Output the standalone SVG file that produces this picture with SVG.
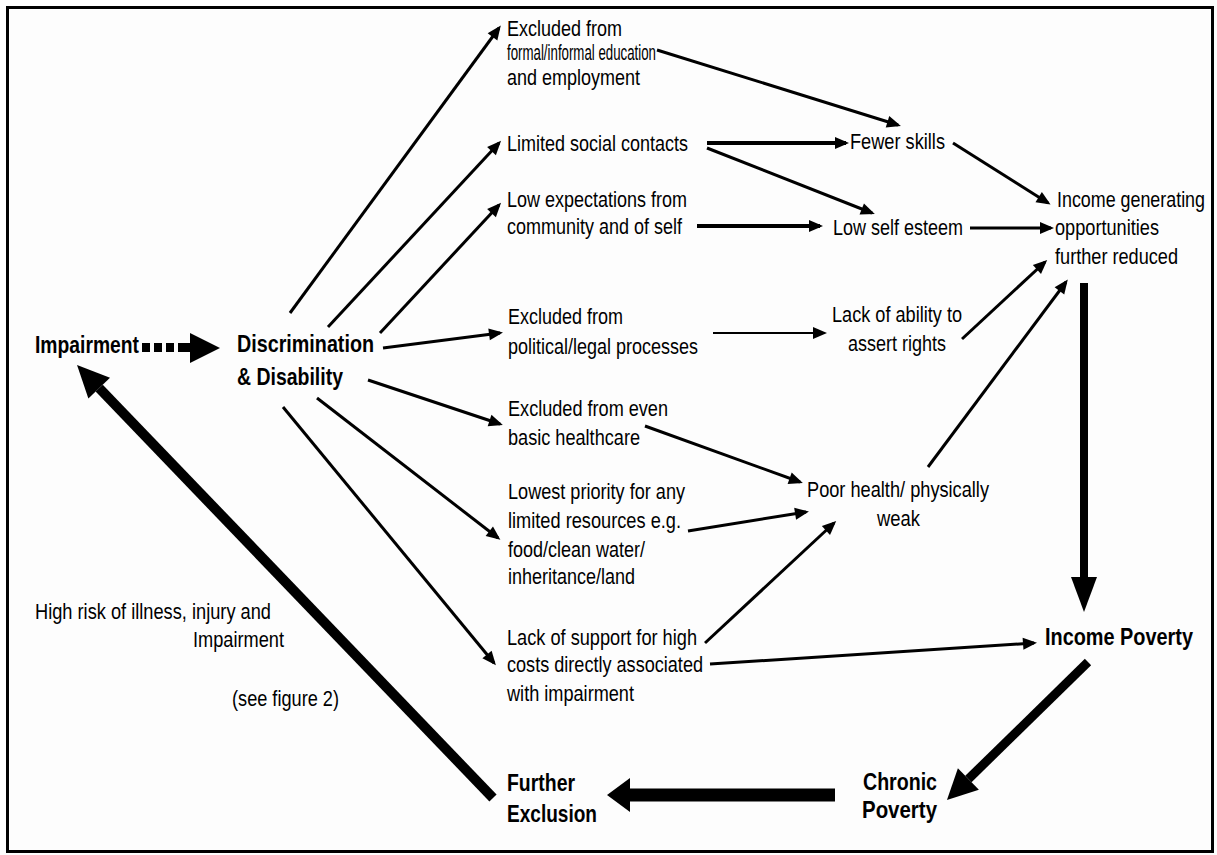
<svg xmlns="http://www.w3.org/2000/svg" width="1217" height="855" viewBox="0 0 1217 855">
  <style>
    text { font-family: "Liberation Sans Narrow", "Liberation Sans", Arial, sans-serif; font-size: 22px; fill: #000; }
    .b { font-weight: bold; font-size: 24px; }
    .c { stroke: #000; stroke-width: 3; fill: none; marker-end: url(#ah); }
    .t { stroke: #000; stroke-width: 2; fill: none; marker-end: url(#ah); }
    .k { stroke: #000; stroke-width: 4; fill: none; marker-end: url(#ah); }
  </style>
  <defs>
    <marker id="ah" markerUnits="userSpaceOnUse" markerWidth="14" markerHeight="12" refX="11" refY="6" orient="auto" overflow="visible">
      <path d="M0,0 L14,6 L0,12 z" fill="#000"/>
    </marker>
    <marker id="bigV" markerUnits="userSpaceOnUse" markerWidth="35" markerHeight="26" refX="0" refY="13" orient="auto" overflow="visible">
      <path d="M0,0 L35,13 L0,26 z" fill="#000"/>
    </marker>
    <marker id="bigD" markerUnits="userSpaceOnUse" markerWidth="30" markerHeight="30" refX="0" refY="15" orient="auto" overflow="visible">
      <path d="M0,0 L30,15 L0,30 z" fill="#000"/>
    </marker>
    <marker id="bigH" markerUnits="userSpaceOnUse" markerWidth="23" markerHeight="34" refX="0" refY="17" orient="auto" overflow="visible">
      <path d="M0,0 L23,17 L0,34 z" fill="#000"/>
    </marker>
    <marker id="bigL" markerUnits="userSpaceOnUse" markerWidth="32" markerHeight="30" refX="0" refY="15" orient="auto" overflow="visible">
      <path d="M0,0 L32,15 L0,30 z" fill="#000"/>
    </marker>
  </defs>

  <rect width="1217" height="855" fill="#fdfdfd"/>
  <!-- frame -->
  <rect x="7.5" y="7.5" width="1205" height="844" fill="none" stroke="#000" stroke-width="3"/>

  <!-- connectors -->
  <g id="connectors">
    <!-- fan out from Discrimination & Disability -->
    <line class="c" x1="290" y1="313" x2="499" y2="28"/>
    <line class="c" x1="328" y1="327" x2="499" y2="143"/>
    <line class="c" x1="380" y1="333" x2="499" y2="205"/>
    <line class="c" x1="383" y1="348" x2="500" y2="333"/>
    <line class="c" x1="368" y1="380" x2="500" y2="424"/>
    <line class="c" x1="317" y1="398" x2="498" y2="538"/>
    <line class="c" x1="283" y1="407" x2="494" y2="663"/>
    <!-- middle column to right column -->
    <line class="c" x1="657" y1="50" x2="898" y2="125"/>
    <line class="k" x1="707" y1="143" x2="846" y2="143"/>
    <line class="c" x1="707" y1="148" x2="872" y2="213"/>
    <line class="k" x1="697" y1="226" x2="820" y2="226"/>
    <line class="t" x1="713" y1="333" x2="824" y2="333"/>
    <line class="c" x1="645" y1="426" x2="800" y2="482"/>
    <line class="c" x1="688" y1="531" x2="806" y2="512"/>
    <line class="c" x1="705" y1="643" x2="834" y2="523"/>
    <line class="c" x1="710" y1="664" x2="1034" y2="643"/>
    <!-- into income generating opportunities -->
    <line class="c" x1="953" y1="143" x2="1048" y2="203"/>
    <line class="c" x1="970" y1="228" x2="1051" y2="228"/>
    <line class="c" x1="962" y1="339" x2="1045" y2="262"/>
    <line class="c" x1="928" y1="467" x2="1066" y2="282"/>
    <!-- heavy poverty cycle -->
    <line x1="1084" y1="283" x2="1084" y2="577" stroke="#000" stroke-width="8" marker-end="url(#bigV)"/>
    <line x1="1088" y1="662" x2="968.4" y2="779" stroke="#000" stroke-width="9" marker-end="url(#bigD)"/>
    <line x1="835" y1="795" x2="630" y2="795" stroke="#000" stroke-width="13" marker-end="url(#bigH)"/>
    <line x1="493" y1="798" x2="99.2" y2="388.1" stroke="#000" stroke-width="10" marker-end="url(#bigL)"/>
    <!-- dotted arrow Impairment to Discrimination -->
    <g id="dotted-arrow" fill="#000">
      <rect x="142" y="343" width="8" height="9"/>
      <rect x="154" y="343" width="8" height="9"/>
      <rect x="166" y="343" width="8" height="9"/>
      <rect x="178" y="343" width="12" height="9"/>
      <path d="M190,333 L220,348 L190,363 z"/>
    </g>
  </g>

  <!-- nodes -->
  <g id="impairment"><text class="b" x="35" y="353" textLength="104" lengthAdjust="spacingAndGlyphs">Impairment</text></g>
  <g id="discrimination">
    <text class="b" x="237" y="352" textLength="137" lengthAdjust="spacingAndGlyphs">Discrimination</text>
    <text class="b" x="237" y="385" textLength="106" lengthAdjust="spacingAndGlyphs">&amp; Disability</text>
  </g>
  <g id="excluded-education">
    <text x="507" y="36" textLength="115" lengthAdjust="spacingAndGlyphs">Excluded from</text>
    <text x="507" y="60" textLength="149" lengthAdjust="spacingAndGlyphs">formal/informal education</text>
    <text x="507" y="85" textLength="133" lengthAdjust="spacingAndGlyphs">and employment</text>
  </g>
  <g id="social-contacts"><text x="507" y="151" textLength="181" lengthAdjust="spacingAndGlyphs">Limited social contacts</text></g>
  <g id="low-expectations">
    <text x="507" y="207" textLength="180" lengthAdjust="spacingAndGlyphs">Low expectations from</text>
    <text x="507" y="234" textLength="175" lengthAdjust="spacingAndGlyphs">community and of self</text>
  </g>
  <g id="excluded-political">
    <text x="508" y="324" textLength="115" lengthAdjust="spacingAndGlyphs">Excluded from</text>
    <text x="508" y="354" textLength="190" lengthAdjust="spacingAndGlyphs">political/legal processes</text>
  </g>
  <g id="excluded-healthcare">
    <text x="508" y="416" textLength="160" lengthAdjust="spacingAndGlyphs">Excluded from even</text>
    <text x="508" y="445" textLength="132" lengthAdjust="spacingAndGlyphs">basic healthcare</text>
  </g>
  <g id="lowest-priority">
    <text x="508" y="499" textLength="177" lengthAdjust="spacingAndGlyphs">Lowest priority for any</text>
    <text x="508" y="528" textLength="173" lengthAdjust="spacingAndGlyphs">limited resources e.g.</text>
    <text x="508" y="557" textLength="137" lengthAdjust="spacingAndGlyphs">food/clean water/</text>
    <text x="508" y="584" textLength="127" lengthAdjust="spacingAndGlyphs">inheritance/land</text>
  </g>
  <g id="lack-support">
    <text x="507" y="645" textLength="190" lengthAdjust="spacingAndGlyphs">Lack of support for high</text>
    <text x="507" y="672" textLength="196" lengthAdjust="spacingAndGlyphs">costs directly associated</text>
    <text x="507" y="701" textLength="127" lengthAdjust="spacingAndGlyphs">with impairment</text>
  </g>
  <g id="fewer-skills"><text x="850" y="149" textLength="95" lengthAdjust="spacingAndGlyphs">Fewer skills</text></g>
  <g id="low-self-esteem"><text x="833" y="235" textLength="130" lengthAdjust="spacingAndGlyphs">Low self esteem</text></g>
  <g id="lack-ability">
    <text x="832" y="322" textLength="130" lengthAdjust="spacingAndGlyphs">Lack of ability to</text>
    <text x="848" y="351" textLength="98" lengthAdjust="spacingAndGlyphs">assert rights</text>
  </g>
  <g id="poor-health">
    <text x="807" y="497" textLength="182" lengthAdjust="spacingAndGlyphs">Poor health/ physically</text>
    <text x="877" y="526" textLength="43" lengthAdjust="spacingAndGlyphs">weak</text>
  </g>
  <g id="income-opportunities">
    <text x="1057" y="207" textLength="148" lengthAdjust="spacingAndGlyphs">Income generating</text>
    <text x="1055" y="235" textLength="104" lengthAdjust="spacingAndGlyphs">opportunities</text>
    <text x="1055" y="264" textLength="123" lengthAdjust="spacingAndGlyphs">further reduced</text>
  </g>
  <g id="income-poverty"><text class="b" x="1045" y="645" textLength="148" lengthAdjust="spacingAndGlyphs">Income Poverty</text></g>
  <g id="chronic-poverty">
    <text class="b" x="863" y="790" textLength="74" lengthAdjust="spacingAndGlyphs">Chronic</text>
    <text class="b" x="862" y="818" textLength="75" lengthAdjust="spacingAndGlyphs">Poverty</text>
  </g>
  <g id="further-exclusion">
    <text class="b" x="507" y="791" textLength="68" lengthAdjust="spacingAndGlyphs">Further</text>
    <text class="b" x="507" y="822" textLength="90" lengthAdjust="spacingAndGlyphs">Exclusion</text>
  </g>
  <g id="high-risk">
    <text x="35" y="619" textLength="236" lengthAdjust="spacingAndGlyphs">High risk of illness, injury and</text>
    <text x="193" y="647" textLength="91" lengthAdjust="spacingAndGlyphs">Impairment</text>
    <text x="232" y="706" textLength="107" lengthAdjust="spacingAndGlyphs">(see figure 2)</text>
  </g>
</svg>
